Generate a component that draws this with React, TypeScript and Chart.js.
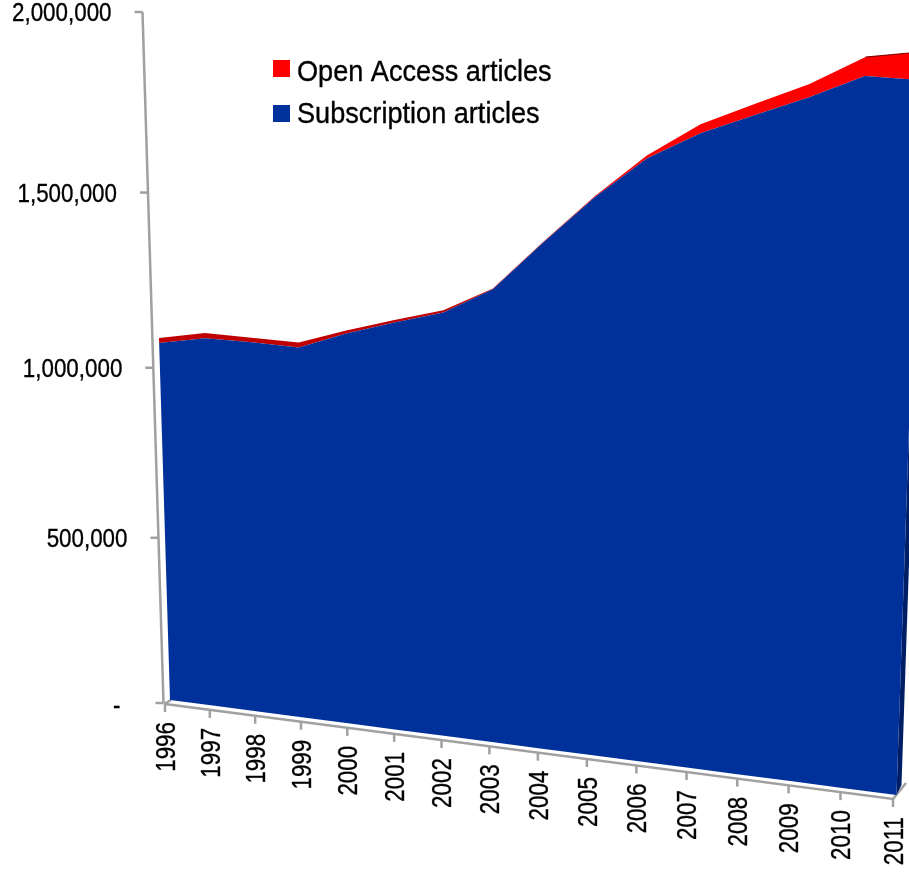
import React, { useEffect, useRef } from "react";
import { Chart, registerables } from "chart.js";

Chart.register(...registerables);

const years = ["1996","1997","1998","1999","2000","2001","2002","2003","2004","2005","2006","2007","2008","2009","2010","2011"];
const subscriptionArticles = [1063000,1088000,1088000,1085000,1136000,1178000,1217000,1292000,1429000,1560000,1672000,1746000,1800000,1854000,1915000,1912000];
const openAccessArticles = [14000,15000,13000,14000,8000,7000,6000,2000,2000,3000,8000,23000,29000,34000,48000,71000];
const yTickValues = [0,500000,1000000,1500000,2000000];
const yTickLabels = ["-","500,000","1,000,000","1,500,000","2,000,000"];

const BLUE = "#00309A";
const RED = "#FF0000";
const AXIS = "#A0A0A0";
const FONT = "'Liberation Sans', Arial, sans-serif";

// Perspective of the picture plane: (u, v) in the unit square to canvas pixels.
const H = { a: 653.5, b: -29.56, c: 170, d: 30.27, e: -691.5, f: 700, g: -0.08142, h: -0.05747 };
function project(u: number, v: number) {
  const w = 1 + H.g * u + H.h * v;
  return { x: (H.a * u + H.b * v + H.c) / w, y: (H.d * u + H.e * v + H.f) / w };
}

function unit(chart: any, px: number, py: number) {
  const { left, right, top, bottom } = chart.chartArea;
  return { u: (px - left) / (right - left), v: (bottom - py) / (bottom - top) };
}

function text(ctx: any, label: string) {
  ctx.fillText(label, 0, 0);
  ctx.lineWidth = 0.35;
  ctx.strokeStyle = "#000";
  ctx.strokeText(label, 0, 0);
}

const perspectivePlugin = {
  id: "perspective",
  afterDatasetsUpdate(chart: any) {
    chart.data.datasets.forEach((_: any, i: number) => {
      chart.getDatasetMeta(i).data.forEach((pt: any) => {
        const { u, v } = unit(chart, pt.x, pt.y);
        const p = project(u, v);
        pt.x = p.x;
        pt.y = p.y;
      });
    });
  },
  beforeDatasetsDraw(chart: any) {
    const { ctx, scales } = chart;
    const xs = scales.x;
    const ys = scales.y;
    const yZero = ys.getPixelForValue(0);
    const axisY = (val: number) => {
      const p = project(0, unit(chart, 0, ys.getPixelForValue(val)).v);
      return { x: p.x - 6.5, y: p.y + 3 };
    };
    const axisX = (i: number) => {
      const u = unit(chart, xs.getPixelForValue(i), yZero).u;
      const p = project(u, 0);
      return { x: p.x - 5 + 1.5 * u, y: p.y + 4 };
    };
    ctx.save();
    ctx.strokeStyle = AXIS;
    ctx.lineWidth = 2.5;
    ctx.lineCap = "butt";
    // value axis
    const y0 = axisY(yTickValues[0]);
    const y1 = axisY(yTickValues[yTickValues.length - 1]);
    ctx.beginPath();
    ctx.moveTo(y0.x, y0.y);
    ctx.lineTo(y1.x, y1.y);
    ctx.stroke();
    yTickValues.forEach((val, i) => {
      const p = axisY(val);
      ctx.strokeStyle = AXIS;
      ctx.lineWidth = 2.5;
      ctx.beginPath();
      ctx.moveTo(p.x - 8, p.y);
      ctx.lineTo(p.x, p.y);
      ctx.stroke();
      ctx.save();
      ctx.fillStyle = "#000";
      ctx.font = `26px ${FONT}`;
      ctx.textAlign = "right";
      ctx.textBaseline = "middle";
      ctx.translate(p.x - (val === 0 ? 43 : 31), p.y + (val === 0 ? 4 : 2));
      ctx.scale(0.86, 1);
      text(ctx, yTickLabels[i]);
      ctx.restore();
    });
    // category axis
    const first = axisX(0);
    const last = axisX(years.length - 1);
    ctx.strokeStyle = AXIS;
    ctx.lineWidth = 2.5;
    ctx.beginPath();
    ctx.moveTo(first.x, first.y);
    ctx.lineTo(last.x, last.y);
    ctx.lineTo(last.x + 13, last.y - 16);
    ctx.stroke();
    ctx.beginPath();
    ctx.moveTo(first.x - 1, first.y);
    ctx.lineTo(first.x + 6, first.y - 4);
    ctx.stroke();
    years.forEach((label, i) => {
      const p = axisX(i);
      ctx.strokeStyle = AXIS;
      ctx.lineWidth = 2.5;
      ctx.beginPath();
      ctx.moveTo(p.x, p.y);
      ctx.lineTo(p.x, p.y + 8);
      ctx.stroke();
      ctx.save();
      ctx.fillStyle = "#000";
      ctx.font = `28px ${FONT}`;
      ctx.textAlign = "right";
      ctx.textBaseline = "middle";
      ctx.translate(p.x + 2, p.y + 18);
      ctx.rotate(-Math.PI / 2);
      ctx.scale(0.8, 1);
      text(ctx, label);
      ctx.restore();
    });
    ctx.restore();
  },
  afterDatasetsDraw(chart: any) {
    const { ctx, scales } = chart;
    const xs = scales.x;
    const yZero = scales.y.getPixelForValue(0);
    const base = years.map((_, i) => project(unit(chart, xs.getPixelForValue(i), yZero).u, 0));
    const sub = chart.getDatasetMeta(0).data;
    const oa = chart.getDatasetMeta(1).data;
    const poly = (upper: any[], lower: any[], fill: any) => {
      ctx.beginPath();
      upper.forEach((p, i) => (i ? ctx.lineTo(p.x, p.y) : ctx.moveTo(p.x, p.y)));
      [...lower].reverse().forEach((p) => ctx.lineTo(p.x, p.y));
      ctx.closePath();
      ctx.fillStyle = fill;
      ctx.fill();
    };
    ctx.save();
    // side wall at the last year
    const n = years.length - 1;
    ctx.beginPath();
    ctx.moveTo(base[n].x, base[n].y);
    ctx.lineTo(base[n].x + 5, base[n].y - 10);
    ctx.lineTo(sub[n].x + 5, sub[n].y - 10);
    ctx.lineTo(sub[n].x, sub[n].y);
    ctx.closePath();
    ctx.fillStyle = "#001E66";
    ctx.fill();
    // open access band: dark top face while thin, full red once it widens
    const grad = ctx.createLinearGradient(500, 0, 620, 0);
    grad.addColorStop(0, "#C00000");
    grad.addColorStop(1, RED);
    poly(oa, sub, grad);
    poly(sub, base, BLUE);
    ctx.strokeStyle = "#8A0000";
    ctx.lineWidth = 1.2;
    ctx.beginPath();
    ctx.moveTo(oa[n - 1].x, oa[n - 1].y);
    ctx.lineTo(oa[n].x, oa[n].y);
    ctx.stroke();
    ctx.restore();

    // legend
    const items = [
      { ds: chart.data.datasets[1], box: 60, base: 81 },
      { ds: chart.data.datasets[0], box: 105, base: 123 },
    ];
    ctx.save();
    items.forEach(({ ds, box, base: baseline }) => {
      ctx.fillStyle = ds.backgroundColor;
      ctx.fillRect(273, box, 17, 17);
      ctx.save();
      ctx.fillStyle = "#000";
      ctx.font = `29px ${FONT}`;
      ctx.textAlign = "left";
      ctx.textBaseline = "alphabetic";
      ctx.translate(297, baseline);
      ctx.scale(0.935, 1);
      text(ctx, ds.label);
      ctx.restore();
    });
    ctx.restore();
  },
};

export default function App() {
  const ref = useRef<HTMLCanvasElement>(null);
  useEffect(() => {
    const chart = new Chart(ref.current as HTMLCanvasElement, {
      type: "line",
      data: {
        labels: years,
        datasets: [
          { label: "Subscription articles", data: subscriptionArticles, backgroundColor: BLUE, borderWidth: 0, pointRadius: 0, fill: false, showLine: false },
          { label: "Open Access articles", data: openAccessArticles, backgroundColor: RED, borderWidth: 0, pointRadius: 0, fill: false, showLine: false },
        ],
      },
      options: {
        responsive: false,
        animation: false,
        devicePixelRatio: 1,
        events: [],
        layout: { padding: 0 },
        plugins: { legend: { display: false }, tooltip: { enabled: false } },
        scales: {
          x: { type: "category", display: false, offset: false },
          y: { type: "linear", display: false, stacked: true, min: 0, max: 2000000 },
        },
      },
      plugins: [perspectivePlugin],
    } as any);
    return () => chart.destroy();
  }, []);
  return (
    <canvas
      ref={ref}
      width={909}
      height={872}
      style={{ position: "absolute", left: 0, top: 0, width: 909, height: 872, background: "#fff" }}
    />
  );
}
